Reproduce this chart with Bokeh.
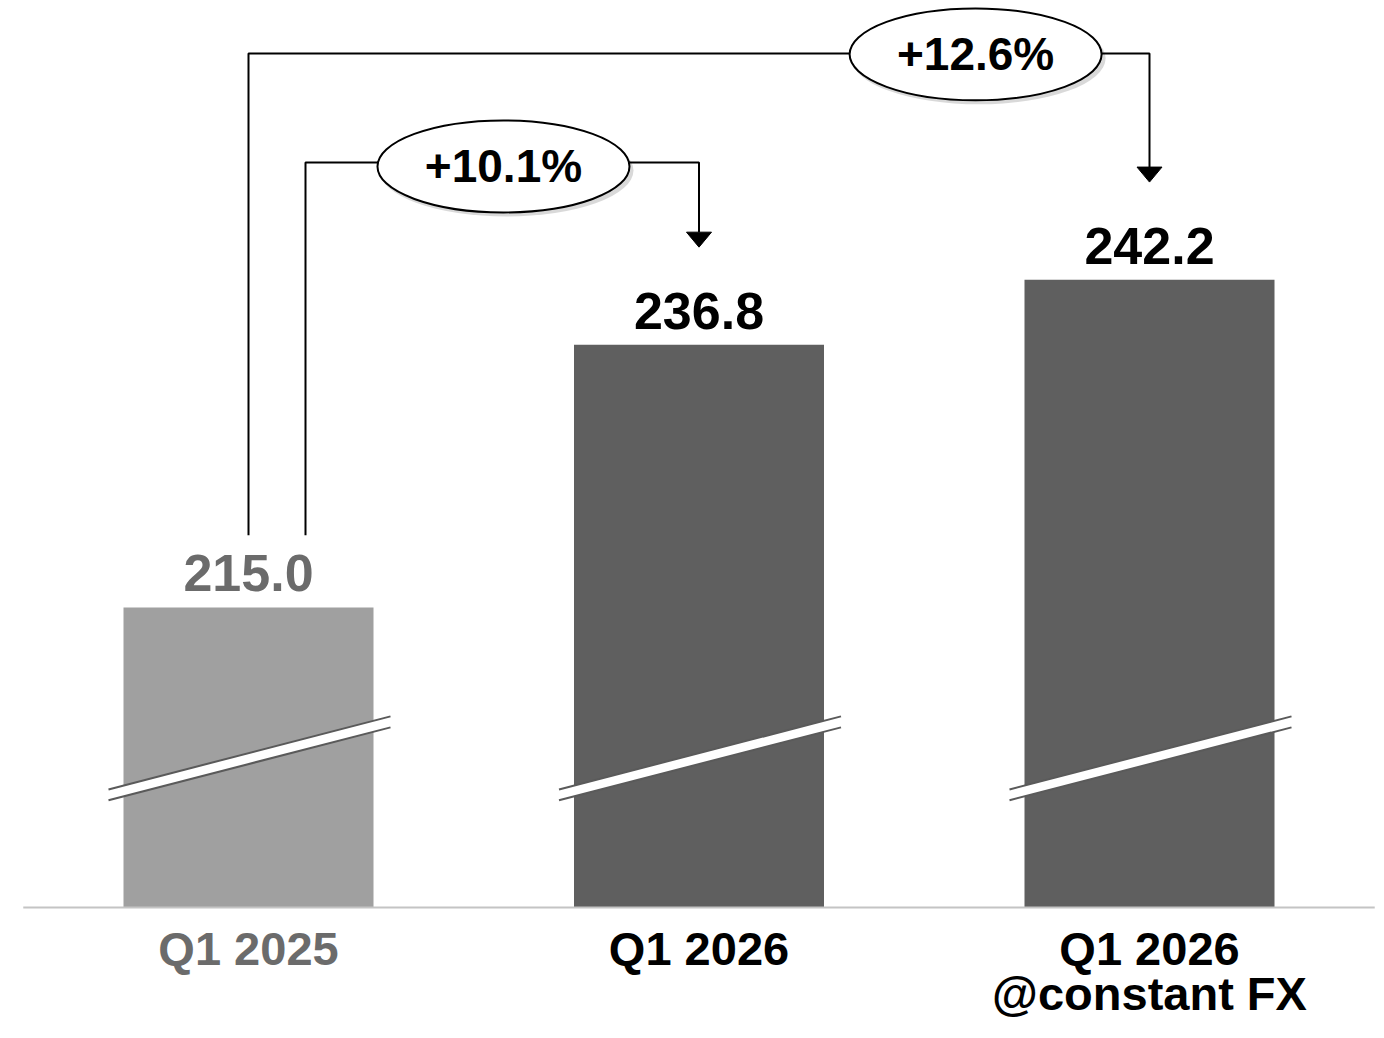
from bokeh.plotting import figure
from bokeh.models import Range1d
from bokeh.embed import file_html
from bokeh.resources import INLINE
from bokeh.core.properties import value

# ---- data ----
categories = ["Q1 2025", "Q1 2026", "Q1 2026\n@constant FX"]
values = [215.0, 236.8, 242.2]
value_labels = ["215.0", "236.8", "242.2"]
growth_labels = ["+10.1%", "+12.6%"]

# ---- style ----
bar_colors = ["#a0a0a0", "#5f5f5f", "#5f5f5f"]
text_colors = ["#6b6b6b", "#000000", "#000000"]
FONT = value("Liberation Sans")
y_base = 190.1          # broken-axis base value
px_x = 450.5            # px per category unit
px_y = 12.05            # px per value unit

W, H = 1384, 1038
x0 = -248 / px_x
y0 = y_base - 131 / px_y

p = figure(width=W, height=H, output_backend="svg", toolbar_location=None,
           x_range=Range1d(x0, x0 + W / px_x), y_range=Range1d(y0, y0 + H / px_y),
           min_border=0, border_fill_color="white", background_fill_color="white")
p.axis.visible = False
p.grid.visible = False
p.outline_line_color = None

xs = list(range(len(values)))
bw = 250 / px_x

# bars
p.vbar(x=xs, top=values, bottom=y_base, width=bw, fill_color=bar_colors, line_color=None)

# baseline
p.line(x=[-0.5, 2.5], y=[y_base, y_base], line_color="#c4c4c4", line_width=2)

# axis break marks
for xc in xs:
    xl, xr = xc - 140 / px_x, xc + 142 / px_x
    yl_up, yl_lo = y_base + 9.8, y_base + 8.9
    yr_up, yr_lo = y_base + 15.86, y_base + 14.95
    p.patch(x=[xl, xr, xr, xl], y=[yl_up, yr_up, yr_lo, yl_lo], fill_color="white", line_color=None)
    p.line(x=[xl, xr], y=[yl_up, yr_up], line_color="#5a5a5a", line_width=2)
    p.line(x=[xl, xr], y=[yl_lo, yr_lo], line_color="#5a5a5a", line_width=2)

# value labels
p.text(x=xs, y=values, text=value_labels, text_color=text_colors, text_font=FONT,
       text_font_style="bold", text_font_size="52px", text_align="center",
       text_baseline="alphabetic", y_offset=-34)

# category labels (multi-line split)
for i, cat in enumerate(categories):
    for j, line in enumerate(cat.split("\n")):
        p.text(x=[xs[i]], y=[y_base], text=[line], text_color=text_colors[i], text_font=FONT,
               text_font_style="bold", text_font_size="47px", text_align="center",
               text_baseline="alphabetic", y_offset=41 + 45 * j)

# growth connectors
tip_gap = 8.1
start_gap = 6.0
head_h = 15 / px_y
head_w = 12.5 / px_x

# inner: bar0 -> bar1
xi = xs[0] + 57 / px_x
yi = 251.93
t1 = values[1] + tip_gap
p.line(x=[xi, xi, xs[1], xs[1]], y=[values[0] + start_gap, yi, yi, t1 + head_h],
       line_color="black", line_width=2)
p.patch(x=[xs[1] - head_w, xs[1] + head_w, xs[1]], y=[t1 + head_h, t1 + head_h, t1],
        fill_color="black", line_color="black", line_width=1)

# outer: bar0 -> bar2
yo = 260.98
t2 = values[2] + tip_gap
p.line(x=[xs[0], xs[0], xs[2], xs[2]], y=[values[0] + start_gap, yo, yo, t2 + head_h],
       line_color="black", line_width=2)
p.patch(x=[xs[2] - head_w, xs[2] + head_w, xs[2]], y=[t2 + head_h, t2 + head_h, t2],
        fill_color="black", line_color="black", line_width=1)

# ellipses with growth labels
ex = [0.566, 1.614]
ey = [251.6, 260.9]
p.ellipse(x=[e + 3 / px_x for e in ex], y=[e - 4 / px_y for e in ey], width=254, height=92,
          width_units="screen", height_units="screen", fill_color="black", fill_alpha=0.15,
          line_color=None)
p.ellipse(x=ex, y=ey, width=252, height=92, width_units="screen", height_units="screen",
          fill_color="white", line_color="black", line_width=2)
p.text(x=ex, y=ey, text=growth_labels, text_color="black", text_font=FONT,
       text_font_style="bold", text_font_size="46px", text_align="center",
       text_baseline="alphabetic", y_offset=0)

open("out.html", "w").write(file_html(p, INLINE))
